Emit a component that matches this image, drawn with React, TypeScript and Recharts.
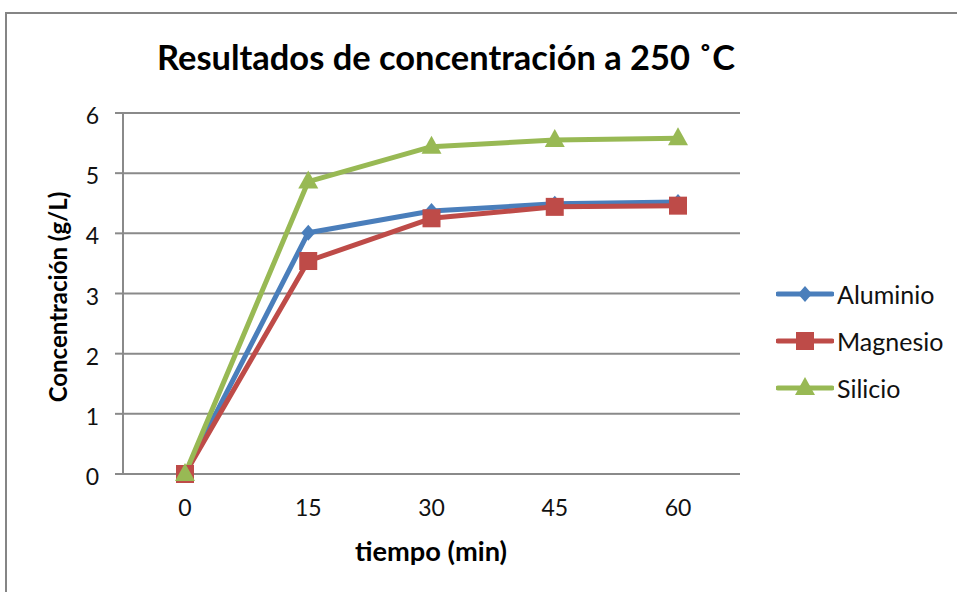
import { LineChart, Line, XAxis, YAxis, CartesianGrid, Legend } from "recharts";

const tiempos = ["0", "15", "30", "45", "60"];
const aluminio = [0, 4.01, 4.37, 4.49, 4.52];
const magnesio = [0, 3.54, 4.25, 4.44, 4.46];
const silicio = [0, 4.86, 5.44, 5.55, 5.58];
const yTicks = [0, 1, 2, 3, 4, 5, 6];

const data = tiempos.map((t, i) => ({
  t,
  Aluminio: aluminio[i],
  Magnesio: magnesio[i],
  Silicio: silicio[i],
}));

const FONT = "Lato, 'Open Sans', sans-serif";
const GRID = "#8a8a8a";

const series = [
  { key: "Aluminio", color: "#4a7ebb", shape: "diamond" },
  { key: "Magnesio", color: "#be4b48", shape: "square" },
  { key: "Silicio", color: "#98b954", shape: "triangle" },
];

function Marker({ shape, cx, cy, color }: { shape: string; cx: number; cy: number; color: string }) {
  if (shape === "diamond") {
    return (
      <polygon
        points={`${cx},${cy - 8} ${cx + 7},${cy} ${cx},${cy + 8} ${cx - 7},${cy}`}
        fill={color}
      />
    );
  }
  if (shape === "square") {
    return <rect x={cx - 9} y={cy - 9} width={18} height={18} fill={color} />;
  }
  return (
    <polygon
      points={`${cx},${cy - 11} ${cx + 10},${cy + 7} ${cx - 10},${cy + 7}`}
      fill={color}
    />
  );
}

function LegendBox() {
  return (
    <div style={{ fontFamily: FONT, fontSize: 25, color: "#111" }}>
      {series.map((s) => (
        <div key={s.key} style={{ display: "flex", alignItems: "center", height: 47 }}>
          <svg width={58} height={24} style={{ marginRight: 3 }}>
            <line x1={2} y1={12} x2={56} y2={12} stroke={s.color} strokeWidth={5} strokeLinecap="round" />
            <Marker shape={s.shape} cx={29} cy={12} color={s.color} />
          </svg>
          <span>{s.key}</span>
        </div>
      ))}
    </div>
  );
}

export default function App() {
  return (
    <div style={{ position: "absolute", left: 0, top: 0, width: 957, height: 592, background: "#fff", overflow: "hidden" }}>
      <div
        style={{
          position: "absolute",
          left: 5,
          top: 12,
          width: 1000,
          height: 700,
          border: "2px solid #858585",
          boxSizing: "border-box",
        }}
      />
      <LineChart
        width={957}
        height={592}
        data={data}
        margin={{ top: 113, right: 217, bottom: 78, left: 63 }}
        style={{ position: "absolute", left: 0, top: 0 }}
      >
        <CartesianGrid vertical={false} stroke={GRID} strokeWidth={2} />
        <XAxis
          dataKey="t"
          height={40}
          padding={{ left: 62, right: 62 }}
          axisLine={{ stroke: GRID, strokeWidth: 2 }}
          tickLine={false}
          tickSize={0}
          tickMargin={26}
          tick={{ fill: "#111", fontSize: 23, fontFamily: FONT }}
        />
        <YAxis
          width={60}
          domain={[0, 6]}
          ticks={yTicks}
          interval={0}
          axisLine={{ stroke: GRID, strokeWidth: 2 }}
          tickLine={{ stroke: GRID, strokeWidth: 2 }}
          tickSize={8}
          tickMargin={16}
          tick={{ fill: "#111", fontSize: 23, fontFamily: FONT, dy: 3 }}
        />
        {series.map((s) => (
          <Line
            key={s.key}
            dataKey={s.key}
            stroke={s.color}
            strokeWidth={5}
            strokeLinejoin="round"
            isAnimationActive={false}
            dot={(p: any) => (
              <Marker key={`${s.key}-${p.index}`} shape={s.shape} cx={p.cx} cy={p.cy} color={s.color} />
            )}
            activeDot={false}
          />
        ))}
        <Legend
          layout="horizontal"
          verticalAlign="middle"
          content={() => <LegendBox />}
          wrapperStyle={{ position: "absolute", left: 776, top: 270, width: 181 }}
        />
      </LineChart>
      <svg width={957} height={592} style={{ position: "absolute", left: 0, top: 0, pointerEvents: "none" }}>
        <text
          x={157}
          y={70}
          textLength={578}
          lengthAdjust="spacingAndGlyphs"
          fontFamily={FONT}
          fontWeight={700}
          fontSize={34}
          fill="#000"
        >
          Resultados de concentración a 250 ˚C
        </text>
        <text
          x={0}
          y={0}
          transform="translate(67,297) rotate(-90)"
          textAnchor="middle"
          fontFamily={FONT}
          fontWeight={700}
          fontSize={24}
          fill="#000"
        >
          Concentración (g/L)
        </text>
        <text
          x={355}
          y={561}
          textLength={152}
          lengthAdjust="spacingAndGlyphs"
          fontFamily={FONT}
          fontWeight={700}
          fontSize={26}
          fill="#000"
        >
          tiempo (min)
        </text>
      </svg>
    </div>
  );
}
